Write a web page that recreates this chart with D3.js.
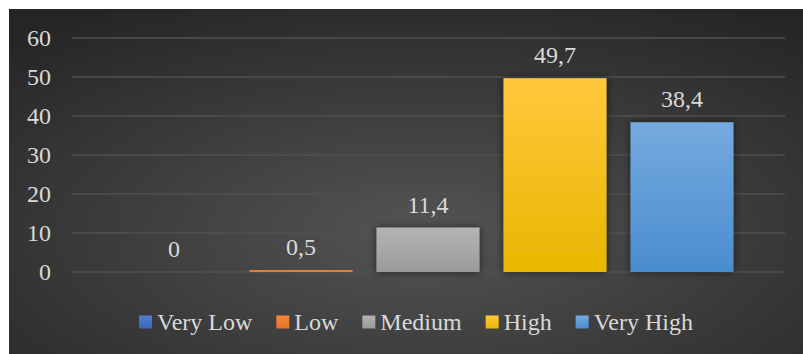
<html>
<head>
<script src="https://cdnjs.cloudflare.com/ajax/libs/d3/7.8.5/d3.min.js"></script>
<style>
  body { margin: 0; background: #fff; }
</style>
</head>
<body>
<svg width="803" height="354"></svg>
<script>
var categories = ["Very Low", "Low", "Medium", "High", "Very High"];
var values = [0, 0.5, 11.4, 49.7, 38.4];
var labels = ["0", "0,5", "11,4", "49,7", "38,4"];
var yTicks = [0, 10, 20, 30, 40, 50, 60];
var colors = [
  ["#4f7fd4", "#3a66b8"],
  ["#f4873a", "#e8742a"],
  ["#b4b4b4", "#9a9a9a"],
  ["#ffc83d", "#e8b700"],
  ["#75aade", "#4a8dcf"]
];
var serif = "'Liberation Serif', 'DejaVu Serif', 'Times New Roman', serif";

var svg = d3.select("svg").attr("font-family", serif);
var defs = svg.append("defs");

var bg = defs.append("radialGradient").attr("id", "bg")
  .attr("cx", "52%").attr("cy", "65%").attr("r", "75%");
bg.append("stop").attr("offset", "0%").attr("stop-color", "#545454");
bg.append("stop").attr("offset", "100%").attr("stop-color", "#262626");

colors.forEach(function(c, i){
  var g = defs.append("linearGradient").attr("id", "g" + i)
    .attr("x1", 0).attr("y1", 0).attr("x2", 0).attr("y2", 1);
  g.append("stop").attr("offset", "0%").attr("stop-color", c[0]);
  g.append("stop").attr("offset", "100%").attr("stop-color", c[1]);
});

var shadow = defs.append("filter").attr("id", "shadow")
  .attr("x", "-20%").attr("y", "-20%").attr("width", "140%").attr("height", "140%");
shadow.append("feDropShadow").attr("dx", 0).attr("dy", 0)
  .attr("stdDeviation", 4).attr("flood-color", "#000").attr("flood-opacity", 0.55);

svg.append("rect").attr("x", 9).attr("y", 9).attr("width", 794).attr("height", 345)
  .attr("fill", "url(#bg)");

var y = d3.scaleLinear().domain([0, 60]).range([272, 38]);
var x = d3.scaleBand().domain(categories).range([110.5, 745.5])
  .paddingInner(0.189).paddingOuter(0.0945);

function label(sel){
  return sel.attr("font-family", serif).attr("font-size", 24).attr("fill", "#d9d9d9");
}

// gridlines
svg.append("g").selectAll("line").data(yTicks).enter().append("line")
  .attr("x1", 72).attr("x2", 785)
  .attr("y1", function(d){ return y(d); })
  .attr("y2", function(d){ return y(d); })
  .attr("stroke", "#515151").attr("stroke-width", 1.3);

// y axis labels
label(svg.append("g").selectAll("text").data(yTicks).enter().append("text"))
  .attr("x", 51).attr("y", function(d){ return y(d) + 8; })
  .attr("text-anchor", "end")
  .text(function(d){ return d; });

// bars
svg.append("g").selectAll("rect").data(values).enter().append("rect")
  .attr("x", function(d, i){ return x(categories[i]); })
  .attr("width", x.bandwidth())
  .attr("y", function(d){ return y(d); })
  .attr("height", function(d){ return y(0) - y(d); })
  .attr("fill", function(d, i){ return "url(#g" + i + ")"; })
  .attr("filter", function(d){ return d > 1 ? "url(#shadow)" : null; });

// value labels
label(svg.append("g").selectAll("text").data(values).enter().append("text"))
  .attr("x", function(d, i){ return x(categories[i]) + x.bandwidth() / 2; })
  .attr("y", function(d){ return y(d) - 15; })
  .attr("text-anchor", "middle")
  .text(function(d, i){ return labels[i]; });

// legend
var legend = svg.append("g");
var lx = 0;
categories.forEach(function(c, i){
  var item = legend.append("g").attr("transform", "translate(" + lx + ",0)");
  item.append("rect").attr("x", 0).attr("y", -6.5).attr("width", 13).attr("height", 13)
    .attr("fill", "url(#g" + i + ")");
  var t = label(item.append("text")).attr("x", 18).attr("y", 8).text(c);
  lx += 18 + t.node().getComputedTextLength() + 24;
});
var total = lx - 24;
legend.attr("transform", "translate(" + (416 - total / 2) + ",322)");
</script>
</body>
</html>
